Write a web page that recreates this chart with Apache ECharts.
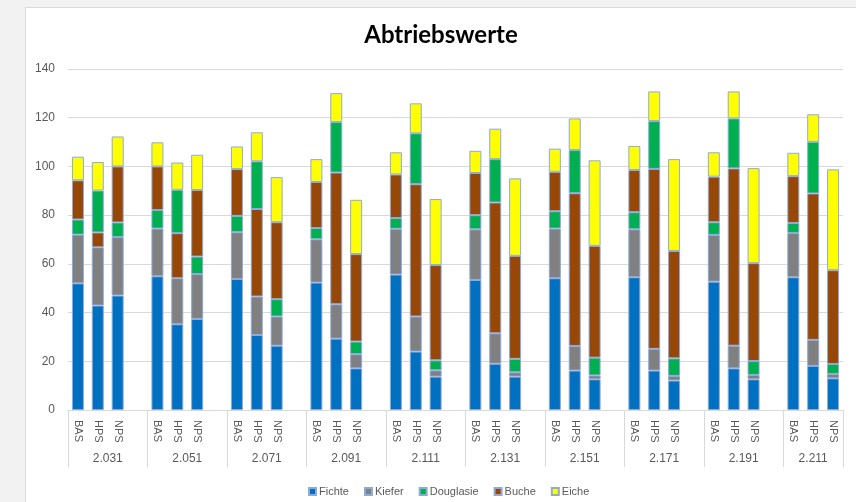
<!DOCTYPE html>
<html>
<head>
<meta charset="utf-8">
<script src="https://cdn.jsdelivr.net/npm/echarts@6/dist/echarts.min.js"></script>
<style>
html,body{margin:0;padding:0;width:856px;height:502px;background:#f2f2f2;overflow:hidden;}
#frame{position:absolute;left:25px;top:7px;width:840px;height:510px;background:#fff;border:1px solid #d9d9d9;box-sizing:border-box;}
#chart{position:absolute;left:0;top:0;width:856px;height:502px;}
</style>
</head>
<body>
<div id="frame"></div>
<div id="chart"></div>
<script>
// Data (per group: BAS, HPS, NPS)
const years = ['2.031','2.051','2.071','2.091','2.111','2.131','2.151','2.171','2.191','2.211'];
const scenarios = ['BAS','HPS','NPS'];
const fichte    = [52.0,42.9,47.0, 54.9,35.2,37.4, 53.8,30.8,26.4, 52.3,29.3,17.1, 55.6,24.0,13.7, 53.4,19.0,13.7, 54.1,16.2,12.6, 54.5,16.2,12.1, 52.7,17.1,12.6, 54.5,18.1,13.0];
const kiefer    = [20.0,23.9,24.0, 19.6,18.9,18.4, 19.2,15.8,12.0, 17.8,14.1,5.8, 18.8,14.4,2.6, 20.8,12.5,1.8, 20.4,10.1,1.6, 19.7,8.9,1.9, 19.2,9.3,1.8, 18.2,10.7,1.8];
const douglasie = [6.2,17.2,6.0, 7.6,17.8,7.2, 6.7,19.6,7.1, 4.6,20.7,5.2, 4.4,20.9,4.1, 5.8,17.8,5.5, 7.1,17.7,7.3, 7.0,19.6,7.2, 5.2,20.5,5.7, 4.1,21.2,4.1];
const buche     = [16.1,6.1,23.0, 17.9,18.5,27.3, 19.2,35.9,31.6, 18.9,54.1,35.9, 17.9,54.3,39.1, 17.3,53.7,42.3, 16.2,62.7,45.9, 17.3,73.9,44.1, 18.7,72.8,40.2, 19.2,60.1,38.5];
const eiche     = [9.7,11.7,12.3, 9.9,11.2,14.5, 9.3,11.9,18.5, 9.4,11.9,22.3, 9.1,12.3,27.1, 9.1,12.5,31.8, 9.5,13.0,35.1, 9.9,12.2,37.7, 10.0,11.1,39.0, 9.6,11.3,41.4];

// Build category layout: 3 bars per group plus an empty slot between groups
const cats = [];
const idxMap = []; // for each slot: index into data arrays, or -1
years.forEach((y, g) => {
  scenarios.forEach((s, k) => { cats.push(s); idxMap.push(g * 3 + k); });
  if (g < years.length - 1) { cats.push(''); idxMap.push(-1); }
});
function build(arr, filter) {
  return idxMap.map(i => {
    if (i < 0) return '-';
    if (filter && !filter(i % 3)) return '-';
    return arr[i];
  });
}
// Outer axis: half-slot positions for group labels and separators
const outer = [];
const sepIdx = new Set();
const nSlots = cats.length;
for (let j = 0; j <= nSlots * 2; j++) outer.push('');
years.forEach((y, g) => {
  const start = g * 4;
  const end = Math.min(start + 4, nSlots);
  sepIdx.add(start * 2);
  sepIdx.add(end * 2);
  outer[start + end] = y; // center position in half-slots
});

const border = '#8eaadb';
const base = { type: 'bar', stack: 'all', barWidth: 12 };
const chart = echarts.init(document.getElementById('chart'));
chart.setOption({
  animation: false,
  title: {
    text: 'Abtriebswerte', left: 441, top: 23, textAlign: 'center', padding: 0,
    textStyle: { fontFamily: 'Lato', fontSize: 24, fontWeight: 'bold', color: '#000' }
  },
  legend: {
    data: ['Fichte', 'Kiefer', 'Douglasie', 'Buche', 'Eiche'],
    left: 303, top: 481, itemWidth: 7, itemHeight: 7, itemGap: 15,
    icon: 'rect',
    textStyle: { fontFamily: 'Liberation Sans', fontSize: 11, color: '#595959', padding: [0, 0, 0, -2] }
  },
  grid: { left: 68, right: 13, top: 69, bottom: 92 },
  xAxis: [
    {
      type: 'category', data: cats, boundaryGap: true,
      axisLine: { lineStyle: { color: '#d9d9d9' } },
      axisTick: { show: false },
      axisLabel: { interval: 0, rotate: -90, margin: 10, fontFamily: 'Liberation Sans', fontSize: 11, color: '#595959' }
    },
    {
      type: 'category', data: outer, boundaryGap: false, position: 'bottom',
      axisLine: { show: false },
      axisTick: { show: true, length: 57, interval: (i) => sepIdx.has(i), lineStyle: { color: '#d9d9d9' } },
      axisLabel: { interval: 0, margin: 43, fontFamily: 'Liberation Sans', fontSize: 12, color: '#595959' }
    }
  ],
  yAxis: {
    type: 'value', min: 0, max: 140, interval: 20,
    axisLine: { show: false }, axisTick: { show: false },
    splitLine: { lineStyle: { color: '#d9d9d9' } },
    axisLabel: { margin: 13, fontFamily: 'Liberation Sans', fontSize: 12, color: '#595959' }
  },
  series: [
    Object.assign({}, base, { name: 'Fichte', data: build(fichte), itemStyle: { color: '#0070c0', borderColor: border, borderWidth: 1 } }),
    Object.assign({}, base, { name: 'Kiefer', data: build(kiefer), itemStyle: { color: '#808080', borderColor: border, borderWidth: 1 } }),
    Object.assign({}, base, { name: 'Douglasie', data: build(douglasie, k => k !== 1), itemStyle: { color: '#00b050', borderColor: border, borderWidth: 1 } }),
    Object.assign({}, base, { name: 'Buche', data: build(buche), itemStyle: { color: '#974706', borderColor: border, borderWidth: 1 } }),
    Object.assign({}, base, { name: 'Douglasie', data: build(douglasie, k => k === 1), itemStyle: { color: '#00b050', borderColor: border, borderWidth: 1 } }),
    Object.assign({}, base, { name: 'Eiche', data: build(eiche), itemStyle: { color: '#ffff00', borderColor: border, borderWidth: 1 } })
  ]
});
</script>
</body>
</html>
